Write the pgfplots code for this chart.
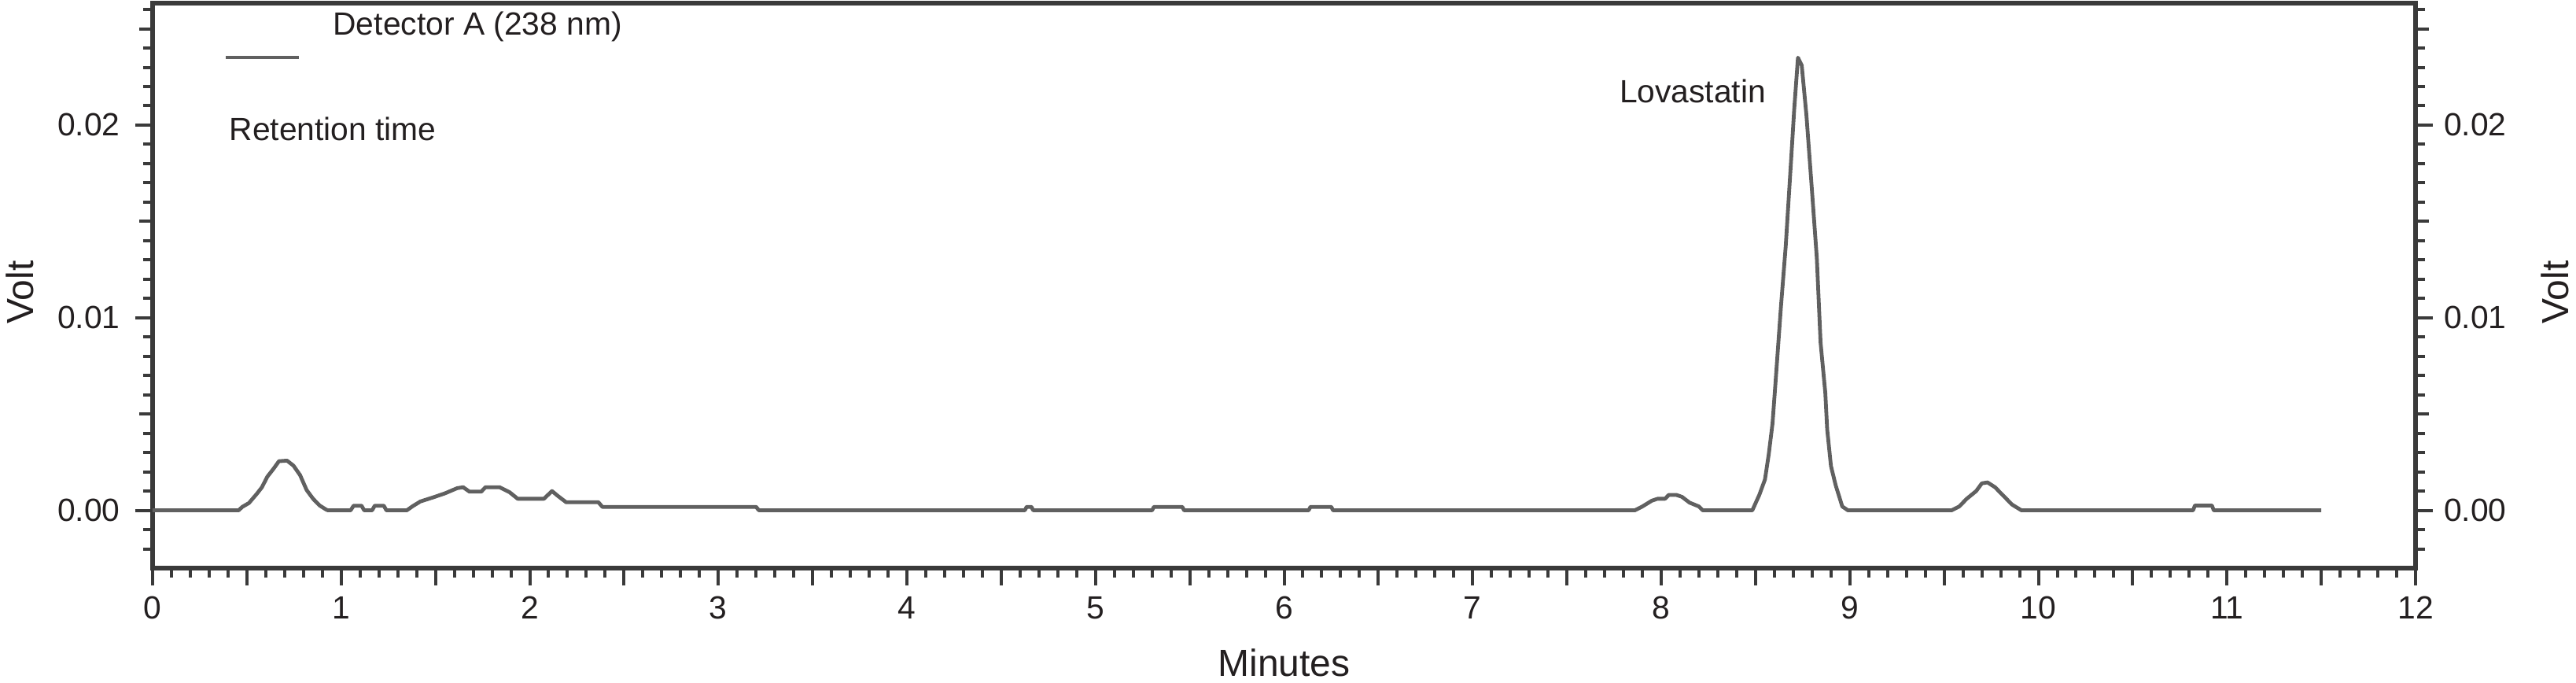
\documentclass[border=0pt]{standalone}
\usepackage{fontspec}
\setmainfont{Liberation Sans}
\usepackage{pgfplots}
\pgfplotsset{compat=1.18}
\usepackage{pgfplotstable}

\definecolor{trace}{HTML}{606060}
\definecolor{axisline}{HTML}{3A3A3A}
\definecolor{txt}{HTML}{231F20}

% chromatogram, detector A (238 nm): minutes vs volt
\pgfplotstableread{
t v
0 0
0.456 0
0.476 0.00018
0.511 0.00038
0.553 0.00086
0.58 0.0012
0.608 0.00174
0.643 0.00218
0.67 0.00255
0.713 0.00258
0.747 0.00232
0.782 0.00183
0.817 0.00105
0.851 0.0006
0.886 0.00025
0.92 0.00004
0.93 0
1.05 0
1.066 0.00024
1.108 0.00024
1.122 0
1.164 0
1.178 0.00024
1.226 0.00024
1.24 0
1.348 0
1.38 0.00022
1.42 0.00046
1.487 0.00067
1.55 0.00088
1.615 0.00115
1.647 0.0012
1.68 0.00097
1.743 0.00097
1.765 0.0012
1.84 0.0012
1.893 0.00094
1.936 0.0006
2.075 0.0006
2.118 0.001
2.15 0.00074
2.193 0.00042
2.364 0.00042
2.385 0.00018
3.2 0.00018
3.215 0
4.625 0
4.635 0.00018
4.66 0.00018
4.67 0
5.3 0
5.31 0.00018
5.46 0.00018
5.47 0
6.13 0
6.14 0.00018
6.25 0.00018
6.26 0
7.86 0
7.9 0.0002
7.95 0.0005
7.98 0.0006
8.02 0.0006
8.04 0.0008
8.08 0.0008
8.11 0.0007
8.15 0.0004
8.2 0.0002
8.22 0
8.483 0
8.52 0.0008
8.55 0.0016
8.57 0.0029
8.59 0.0045
8.605 0.0065
8.635 0.0106
8.66 0.0137
8.69 0.0184
8.705 0.0208
8.725 0.0235
8.745 0.0231
8.77 0.0205
8.80 0.0165
8.825 0.0131
8.845 0.0087
8.87 0.0061
8.88 0.0042
8.90 0.0023
8.925 0.0013
8.96 0.0002
8.99 0
9.54 0
9.58 0.0002
9.62 0.0006
9.67 0.0010
9.70 0.0014
9.73 0.00145
9.77 0.0012
9.81 0.0008
9.86 0.0003
9.91 0
10.82 0
10.83 0.00025
10.92 0.00025
10.93 0
11.5 0
}\chrom

\pgfplotsset{
  chromaxis/.style={
    scale only axis,
    width=719.25pt, height=179.5pt,
    xmin=0, xmax=12, ymin=-0.003, ymax=0.02633,
    axis line style={axisline, line width=1.4pt},
    tick style={axisline, line width=1pt},
    tick align=outside,
    major tick length=5.5pt, minor tick length=3pt,
    ytick={0,0.01,0.02},
    minor ytick={-0.002,-0.001,0.001,0.002,0.003,0.004,0.006,0.007,0.008,0.009,
                 0.011,0.012,0.013,0.014,0.016,0.017,0.018,0.019,
                 0.021,0.022,0.023,0.024,0.026},
    extra y ticks={0.005,0.015,0.025},
    extra y tick labels={},
    extra y tick style={major tick length=4.2pt},
    scaled y ticks=false,
    yticklabel style={
      /pgf/number format/fixed,
      /pgf/number format/fixed zerofill,
      /pgf/number format/precision=2},
    /pgf/number format/assume math mode=true,
    tick label style={font=\fontsize{10.2}{12}\selectfont, text=txt},
    label style={font=\fontsize{12}{14}\selectfont, text=txt},
  }
}

\begin{document}
\begin{tikzpicture}
  \begin{axis}[
    chromaxis,
    name=main,
    xtick={0,1,...,12},
    minor xtick={0,0.1,...,12},
    extra x ticks={0.5,1.5,...,11.5},
    extra x tick labels={},
    extra x tick style={major tick length=5.5pt},
    xtick pos=bottom,
    ytick pos=left,
    yticklabel style={xshift=-1.3pt},
    xlabel={Minutes},
    ylabel={Volt},
    xlabel style={at={(axis description cs:0.5,-0.167)}, anchor=center},
    ylabel style={at={(axis description cs:-0.0587,0.488)}, anchor=center},
  ]
    \addplot[trace, line width=1.2pt, line join=round] table[x=t, y=v] {\chrom};

    % legend sample and annotations
    \draw[trace, line width=1.2pt] (axis cs:0.388,0.02351) -- (axis cs:0.775,0.02351);
    \node[anchor=west, inner sep=0pt, text=txt, font=\fontsize{10.2}{12}\selectfont]
      at (axis cs:0.954,0.0251) {Detector A (238 nm)};
    \node[anchor=west, inner sep=0pt, text=txt, font=\fontsize{10.2}{12}\selectfont]
      at (axis cs:0.404,0.0198) {Retention time};
    \node[anchor=east, inner sep=0pt, text=txt, font=\fontsize{10.2}{12}\selectfont]
      at (axis cs:8.558,0.02176) {Lovastatin};
  \end{axis}

  \begin{axis}[
    chromaxis,
    axis x line=none,
    axis y line*=right,
    ylabel={Volt},
    ylabel style={at={(axis description cs:1.0615,0.488)}, anchor=center},
  ]
  \end{axis}

  \pgfresetboundingbox
  \useasboundingbox ([shift={(-48.5pt,-36.25pt)}]main.south west)
    rectangle ([shift={(51pt,1pt)}]main.north east);
\end{tikzpicture}
\end{document}
